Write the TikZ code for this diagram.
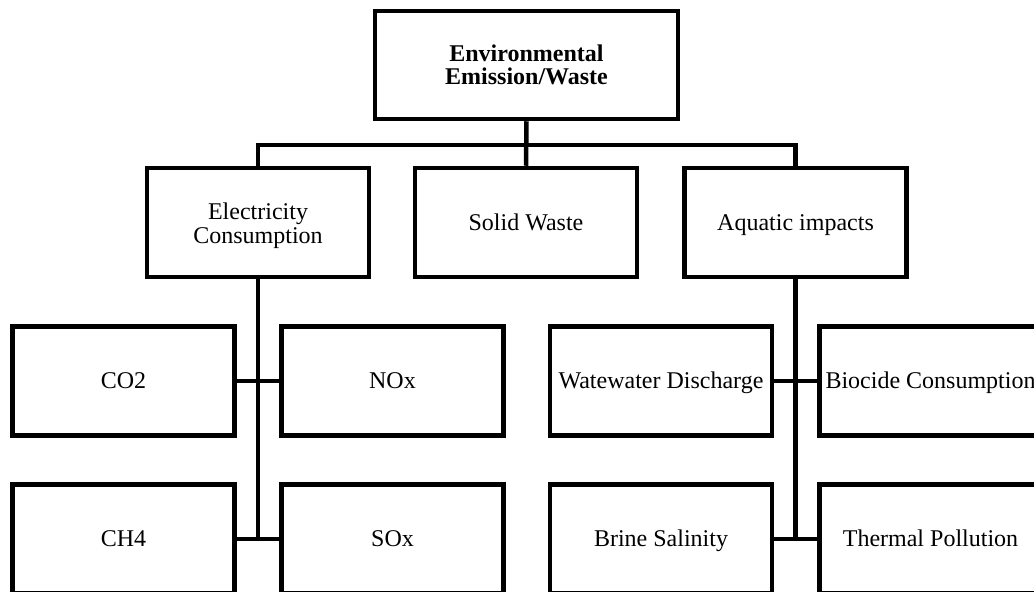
\documentclass[tikz,border=0pt]{standalone}
\usepackage{fontspec}
\setmainfont{Liberation Serif}
\begin{document}
\begin{tikzpicture}[x=1pt,y=-1pt,
  box/.style={draw=black, line width=4.5pt, rectangle, align=center,
    font=\fontsize{24}{23.5}\selectfont, inner sep=0pt,
    text height=15pt, text depth=0pt,
    minimum width=222pt, minimum height=109pt},
  twoline/.style={text height=#1, text depth=0pt},
  link/.style={line width=4.5pt}]
\clip (0,0) rectangle (1034,592);
% root
\node[box, twoline=39pt, font=\fontsize{24}{23.5}\selectfont\bfseries,
      minimum width=303pt, minimum height=108pt] (env) at (526.5,65)
      {Environmental\\Emission/Waste};
% second level
\node[box, twoline=41pt] (elec) at (258,222.5) {Electricity\\Consumption};
\node[box] (solid) at (526,222.5)   {Solid Waste};
\node[box] (aqua)  at (795.5,222.5) {Aquatic impacts};
% third level
\node[box] (co2)   at (123.5,381) {CO2};
\node[box] (nox)   at (392.5,381) {NOx};
\node[box] (ww)    at (661,381)   {Watewater Discharge};
\node[box] (bio)   at (930.5,381) {Biocide Consumption};
\node[box] (ch4)   at (123.5,539) {CH4};
\node[box] (sox)   at (392.5,539) {SOx};
\node[box] (brine) at (661,539)   {Brine Salinity};
\node[box] (therm) at (930.5,539) {Thermal Pollution};
% tree links
\coordinate (bar) at (526,145);
\draw[link] (env.south) -- (solid.north);
\draw[link] (elec.north) -- (elec.north |- bar) -- (aqua.north |- bar) -- (aqua.north);
\draw[link] (elec.south) -- (elec.south |- ch4.east);
\draw[link] (aqua.south) -- (aqua.south |- brine.east);
\draw[link] (co2.east) -- (nox.west);
\draw[link] (ch4.east) -- (sox.west);
\draw[link] (ww.east) -- (bio.west);
\draw[link] (brine.east) -- (therm.west);
\end{tikzpicture}
\end{document}
